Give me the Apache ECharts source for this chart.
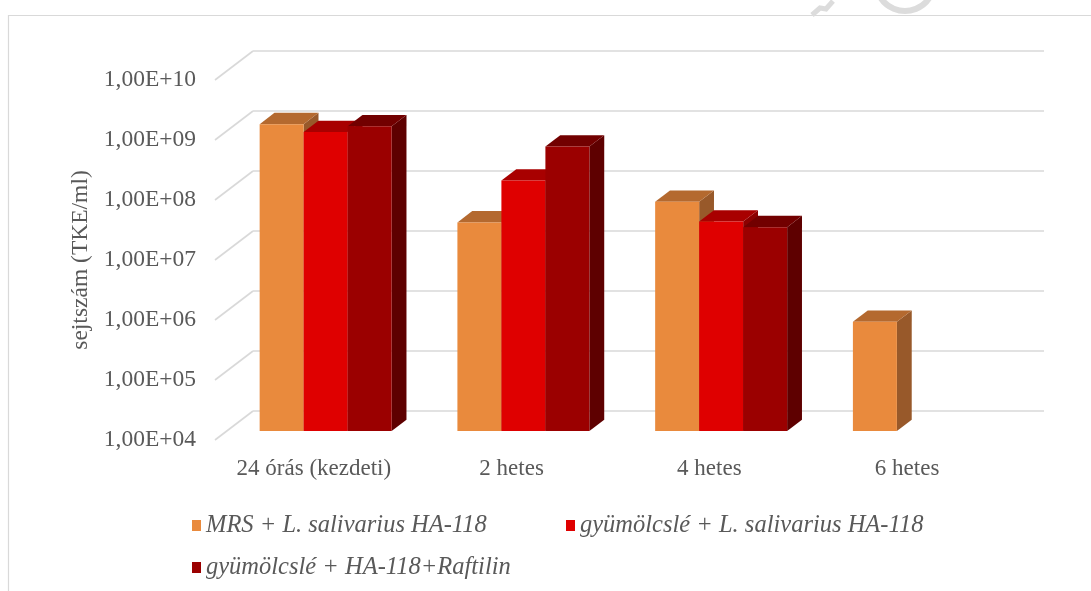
<!DOCTYPE html>
<html>
<head>
<meta charset="utf-8">
<script src="https://cdn.jsdelivr.net/npm/echarts@6/dist/echarts.min.js"></script>
<style>
  html, body { margin: 0; padding: 0; background: #ffffff; }
  #chart { width: 1091px; height: 591px; }
</style>
</head>
<body>
<div id="chart"></div>
<script>
// Cell counts (TKE/ml) per sampling time, log scale
const categories = ['24 órás (kezdeti)', '2 hetes', '4 hetes', '6 hetes'];
const seriesNames = [
  'MRS + L. salivarius HA-118',
  'gyümölcslé + L. salivarius HA-118',
  'gyümölcslé + HA-118+Raftilin'
];
const mrsValues = [1.3e9, 3.0e7, 6.6e7, 6.6e5];
const juiceValues = [9.6e8, 1.5e8, 3.1e7, null];
const raftilinValues = [1.2e9, 5.5e8, 2.5e7, null];
const tickValues = [1e4, 1e5, 1e6, 1e7, 1e8, 1e9, 1e10];

// face colours: front, top, side
const palette = [
  { front: '#E98A3D', top: '#B4692F', side: '#98592A' },
  { front: '#DF0000', top: '#A80000', side: '#8C0000' },
  { front: '#9B0000', top: '#720000', side: '#5E0000' }
];

const FONT = '"Liberation Serif", "Times New Roman", serif';
const TEXT = '#595959';
const GRID_LINE = '#d9d9d9';

// oblique depth of the wall (px) and where the bars sit inside it
const WALL_DX = 38, WALL_DY = -29;
const BAR_FRONT = 0.31, BAR_DEPTH = 0.39;
const BAR_FRACTION = 0.2225;

const chart = echarts.init(document.getElementById('chart'), null, { renderer: 'canvas' });

function expLabel(v) {
  const e = Math.round(Math.log10(v));
  return '1,00E+' + (e < 10 ? '0' + e : String(e));
}

function barRenderer(seriesIndex) {
  return function (params, api) {
    const v = api.value(1);
    if (v == null || isNaN(v)) return null;
    const cat = api.value(0);
    const band = api.size([1, 0])[0];
    const w = band * BAR_FRACTION;
    const topPt = api.coord([cat, v]);
    const basePt = api.coord([cat, tickValues[0]]);
    const fx = WALL_DX * BAR_FRONT, fy = WALL_DY * BAR_FRONT;
    const dx = WALL_DX * BAR_DEPTH, dy = WALL_DY * BAR_DEPTH;
    const x0 = topPt[0] - 1.5 * w + seriesIndex * w + fx;
    const x1 = x0 + w;
    const yT = topPt[1] + fy;
    const yB = basePt[1] + fy;
    const c = palette[seriesIndex];
    return {
      type: 'group',
      children: [
        { type: 'polygon', shape: { points: [[x1, yT], [x1 + dx, yT + dy], [x1 + dx, yB + dy], [x1, yB]] },
          style: { fill: c.side } },
        { type: 'polygon', shape: { points: [[x0, yT], [x1, yT], [x1 + dx, yT + dy], [x0 + dx, yT + dy]] },
          style: { fill: c.top } },
        { type: 'rect', shape: { x: x0, y: yT, width: w, height: yB - yT },
          style: { fill: c.front } }
      ]
    };
  };
}

function sideWallRenderer(params, api) {
  const v = api.value(0);
  const band = api.size([1, 0])[0];
  const p = api.coord([0, v]);
  const x0 = p[0] - band / 2;
  return {
    type: 'line',
    shape: { x1: x0, y1: p[1], x2: x0 + WALL_DX, y2: p[1] + WALL_DY },
    style: { stroke: GRID_LINE, lineWidth: 1.6 }
  };
}

const valueLists = [mrsValues, juiceValues, raftilinValues];

const option = {
  backgroundColor: '#ffffff',
  animation: false,
  textStyle: { fontFamily: FONT },
  graphic: [
    { type: 'rect', shape: { x: 8.5, y: 15.5, width: 1200, height: 700 },
      style: { fill: 'none', stroke: '#d9d9d9', lineWidth: 1.2 }, z: 0, silent: true },
    { type: 'arc', shape: { cx: 905, cy: -18, r: 29, startAngle: 0.4, endAngle: 2.75 },
      style: { fill: 'none', stroke: '#dcdcdc', lineWidth: 6 }, z: 0, silent: true },
    { type: 'polyline', shape: { points: [[812, 15], [820, 8], [826, 9], [833, 1]] },
      style: { fill: 'none', stroke: '#dcdcdc', lineWidth: 5 }, z: 0, silent: true }
  ],
  legend: [
    { data: [seriesNames[0]], left: 192, top: 513 },
    { data: [seriesNames[1]], left: 566, top: 513 },
    { data: [seriesNames[2]], left: 192, top: 555 }
  ].map(l => Object.assign(l, {
    icon: 'rect', itemWidth: 9, itemHeight: 11, selectedMode: false, padding: 0,
    textStyle: { fontFamily: FONT, fontStyle: 'italic', fontSize: 24.5, color: TEXT }
  })),
  grid: [
    { left: 215, width: 791, top: 80, height: 360 },
    { left: 253, width: 791, top: 51, height: 360 }
  ],
  xAxis: [
    { type: 'category', gridIndex: 0, data: categories,
      axisLine: { show: false }, axisTick: { show: false },
      axisLabel: { interval: 0, margin: 17, fontSize: 23, color: TEXT, fontFamily: FONT } },
    { type: 'category', gridIndex: 1, data: categories, show: false }
  ],
  yAxis: [
    { type: 'log', gridIndex: 0, logBase: 10, min: 1e4, max: 1e10, interval: 1,
      axisLine: { show: false }, axisTick: { show: false }, splitLine: { show: false },
      axisLabel: { margin: 19, fontSize: 23.5, color: TEXT, fontFamily: FONT, formatter: expLabel },
      name: 'sejtszám (TKE/ml)', nameLocation: 'middle', nameRotate: 90, nameGap: 122,
      nameTextStyle: { fontSize: 23.5, color: TEXT, fontFamily: FONT } },
    { type: 'log', gridIndex: 1, logBase: 10, min: 1e4, max: 1e10, interval: 1,
      axisLine: { show: false }, axisTick: { show: false }, axisLabel: { show: false },
      splitLine: { show: true, lineStyle: { color: GRID_LINE, width: 1.6 } } }
  ],
  series: [
    { type: 'custom', name: 'wall', xAxisIndex: 0, yAxisIndex: 0, silent: true, z: 1,
      renderItem: sideWallRenderer,
      encode: { x: -1, y: 0 },
      data: tickValues.map(v => [v]) }
  ].concat(valueLists.map((vals, i) => ({
    type: 'custom',
    name: seriesNames[i],
    xAxisIndex: 0, yAxisIndex: 0, z: 2,
    itemStyle: { color: palette[i].front },
    encode: { x: 0, y: 1 },
    renderItem: barRenderer(i),
    data: vals.map((v, k) => [k, v == null ? '-' : v])
  })))
};

chart.setOption(option);
</script>
</body>
</html>
